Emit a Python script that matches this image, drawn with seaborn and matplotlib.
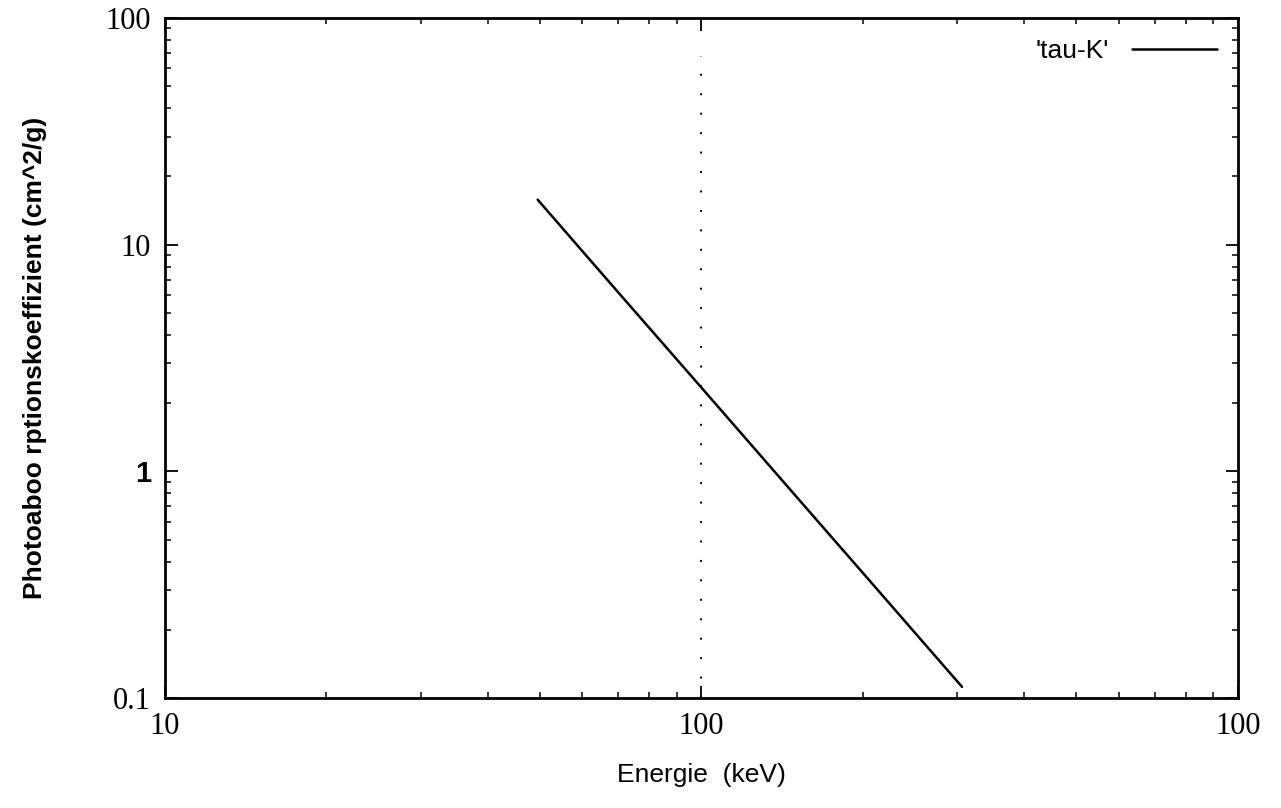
import matplotlib
matplotlib.use("Agg")
import matplotlib.pyplot as plt
import matplotlib.ticker as mticker
import seaborn as sns
import pandas as pd

# K-shell photoabsorption coefficient vs. photon energy
energie_kev = [49.5, 70, 100, 150, 200, 250, 306]
tau_k = [15.8, 6.15, 2.34, 0.777, 0.356, 0.194, 0.112]

# K-edge marker position and its upper extent
kante_kev = [100, 100]
kante_y = [0.1, 68]

x_ticks = [10, 100, 1000]
x_ticklabels = ["10", "100", "100"]
y_ticks = [0.1, 1, 10, 100]
y_ticklabels = ["0.1", "1", "10", "100"]

sns.set_theme(style="white")
plt.rcParams["font.family"] = ["Liberation Sans", "DejaVu Sans"]

fig = plt.figure(figsize=(12.81, 8.08), dpi=100)
ax = fig.add_axes([0.1288, 0.1361, 0.8376, 0.8416])

df = pd.DataFrame({"E": energie_kev, "tau": tau_k})
sns.lineplot(data=df, x="E", y="tau", ax=ax, color="black", linewidth=1.8,
             label="'tau-K'", legend=False)
ax.plot(kante_kev, kante_y, color="black", linewidth=1.4,
        linestyle=(0, (1, 9)))

ax.set_xscale("log")
ax.set_yscale("log")
ax.set_xlim(10, 1000)
ax.set_ylim(0.1, 100)

ax.xaxis.set_major_locator(mticker.FixedLocator(x_ticks))
ax.xaxis.set_major_formatter(mticker.FixedFormatter(x_ticklabels))
ax.yaxis.set_major_locator(mticker.FixedLocator(y_ticks))
ax.yaxis.set_major_formatter(mticker.FixedFormatter(y_ticklabels))
ax.xaxis.set_minor_locator(mticker.LogLocator(base=10, subs=range(2, 10), numticks=20))
ax.yaxis.set_minor_locator(mticker.LogLocator(base=10, subs=range(2, 10), numticks=20))
ax.xaxis.set_minor_formatter(mticker.NullFormatter())
ax.yaxis.set_minor_formatter(mticker.NullFormatter())

ax.tick_params(which="both", direction="in", top=True, right=True,
               color="black", bottom=True, left=True)
ax.tick_params(which="major", length=9, width=1.3, pad=10)
ax.tick_params(which="minor", length=4, width=1.1)
for lab in ax.get_xticklabels() + ax.get_yticklabels():
    lab.set_fontfamily(["Liberation Serif", "DejaVu Serif"])
    lab.set_fontsize(22)
    lab.set_color("black")
for lab in ax.get_yticklabels():
    if lab.get_text() == "1":
        lab.set_fontfamily(["Liberation Sans", "DejaVu Sans"])
        lab.set_fontweight("bold")
        lab.set_fontsize(21)

for sp in ax.spines.values():
    sp.set_color("black")
    sp.set_linewidth(2.0)

ax.set_xlabel("Energie  (keV)", fontsize=19, color="black", labelpad=16)
ax.set_ylabel("Photoaboo rptionskoeffizient (cm^2/g)", fontsize=19,
              fontweight="bold", color="black", labelpad=42)

leg = ax.legend(loc="upper right", frameon=False, fontsize=19,
                handlelength=3.2, handletextpad=0.9, markerfirst=False,
                borderaxespad=0.4)
for t in leg.get_texts():
    t.set_color("black")

fig.savefig("out.png", dpi=100, facecolor="white")
